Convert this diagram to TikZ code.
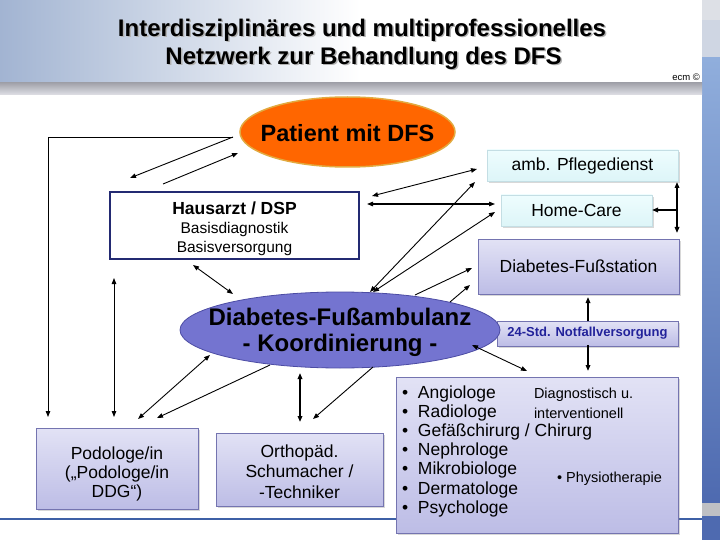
\documentclass[tikz,border=0pt]{standalone}
\usepackage{fontspec}
\setmainfont{Liberation Sans}
\usetikzlibrary{arrows.meta,shapes.geometric,shadows}
\definecolor{lavtop}{HTML}{E2E2F5}
\definecolor{lavbot}{HTML}{BDBDE6}
\definecolor{lavdraw}{HTML}{7474B0}
\definecolor{cyantop}{HTML}{EEFDFE}
\definecolor{cyanbot}{HTML}{DDF5F8}
\definecolor{cyandraw}{HTML}{C4DEE4}
\definecolor{patorange}{HTML}{FF6600}
\definecolor{patdraw}{HTML}{E2AA40}
\definecolor{ambfill}{HTML}{7474D0}
\definecolor{ambdraw}{HTML}{4C4CA4}
\definecolor{navy}{HTML}{232A72}
\definecolor{notftext}{HTML}{22229A}
\definecolor{bandleft}{HTML}{A2B4D2}
\definecolor{stripcol}{HTML}{CBCCD6}
\definecolor{linecol}{HTML}{3E60A6}
\definecolor{bartop}{HTML}{DDE0E6}
\definecolor{barmid}{HTML}{CFD6E3}
\definecolor{barblueA}{HTML}{90AEDC}
\definecolor{barblueB}{HTML}{4E6AB0}
\definecolor{bargrey}{HTML}{BFC0C4}
\begin{document}
\begin{tikzpicture}[x=1pt,y=-1pt,
  every node/.style={inner sep=0pt, outer sep=0pt},
  shad/.style={drop shadow={shadow xshift=2pt,shadow yshift=-2pt,opacity=0.3,fill=gray}},
  lavbox/.style={draw=lavdraw, line width=0.8pt, top color=lavtop, bottom color=lavbot, shad},
  cyanbox/.style={draw=cyandraw, line width=0.6pt, top color=cyantop, bottom color=cyanbot, shad,
    font=\fontsize{17.5}{20}\selectfont},
  txt/.style={font=\fontsize{17.5}{19}\selectfont, align=center},
  titlefont/.style={font=\bfseries\fontsize{24}{28}\selectfont},
  barpart/.style={anchor=north west, minimum width=18pt, draw=none},
  tip/.tip={Triangle[length=6pt,width=4.5pt]},
  arr/.style={-tip, line width=0.9pt},
  darr/.style={tip-tip, line width=0.9pt},
  thick arr/.style={line width=1.5pt}
]
\useasboundingbox (0,0) rectangle (720,540);
\fill[white] (0,0) rectangle (702,540);
% right bar
\node[barpart, fill=bartop, minimum height=20pt] (barA) at (702,0) {};
\node[barpart, fill=barmid, minimum height=38pt] (barB) at (702,20) {};
\node[barpart, top color=barblueA, bottom color=barblueB, minimum height=445pt] (barC) at (702,58) {};
\node[barpart, fill=bargrey, minimum height=13pt] (barD) at (702,503) {};
\node[barpart, fill=barblueB, minimum height=24pt] (barE) at (702,516) {};
% title band
\shade[left color=bandleft, right color=white] (0,0) rectangle (360,83);
\shade[top color=stripcol!80!black, bottom color=stripcol!60] (0,83) rectangle (702,95);
% bottom line
\draw[linecol, line width=2pt] (0,519) -- (702,519);
% title
\node[anchor=base, text=gray!60, titlefont] at (363.5,38) {Interdisziplinäres und multiprofessionelles};
\node[anchor=base, titlefont] (t1) at (362,36.5) {Interdisziplinäres und multiprofessionelles};
\node[anchor=base, text=gray!60, titlefont] at (365,66) {Netzwerk zur Behandlung des DFS};
\node[anchor=base, titlefont] (t2) at (363.5,64.5) {Netzwerk zur Behandlung des DFS};
\node[anchor=base east, font=\fontsize{9.5}{11}\selectfont] (ecm) at (700,80.5) {ecm ©};

% nodes
\node[ellipse, minimum width=215pt, minimum height=70pt, fill=patorange, draw=patdraw, line width=1.5pt] (pat) at (347.5,132) {};
\node[font=\bfseries\fontsize{23.5}{28}\selectfont] (pattxt) at (347.5,133) {Patient mit DFS};

\node[draw=navy, line width=1.3pt, fill=white, minimum width=249pt, minimum height=67pt] (haus) at (234.5,225.5) {};
\node[font=\fontsize{15.5}{19}\selectfont, align=center] (haustxt) at (234.5,228.5)
  {{\bfseries\fontsize{17.5}{19}\selectfont Hausarzt / DSP}\\Basisdiagnostik\\Basisversorgung};

\node[cyanbox, minimum width=191pt, minimum height=31pt] (amb) at (582.5,165.5) {amb. Pflegedienst};
\node[cyanbox, minimum width=151pt, minimum height=31pt] (home) at (576.5,210.5) {Home-Care};
\node[lavbox, minimum width=201pt, minimum height=55pt, font=\fontsize{17.5}{20}\selectfont] (station) at (578.5,266.5) {Diabetes-Fußstation};
\node[lavbox, minimum width=181pt, minimum height=25pt, font=\bfseries\fontsize{13}{15}\selectfont, text=notftext] (notf) at (587.5,333.5) {24-Std. Notfallversorgung};

\node[ellipse, minimum width=320pt, minimum height=76pt, fill=ambfill, draw=ambdraw, line width=0.8pt] (fam) at (340,330) {};
\node[font=\bfseries\fontsize{24}{26}\selectfont, align=center] (famtxt) at (340,332) {Diabetes-Fußambulanz\\- Koordinierung -};

\node[lavbox, minimum width=282pt, minimum height=156pt] (big) at (537,455) {};
\foreach \t [count=\i] in {Angiologe,Radiologe,Gefäßchirurg / Chirurg,Nephrologe,Mikrobiologe,Dermatologe,Psychologe}
  \node[anchor=base west, font=\fontsize{17.5}{19}\selectfont] (li\i) at (402,{398+19.2*(\i-1)}) {\makebox[16pt][l]{•}\t};
\node[anchor=base west, font=\fontsize{14.5}{17}\selectfont] (diag1) at (534,398) {Diagnostisch u.};
\node[anchor=base west, font=\fontsize{14.5}{17}\selectfont] (diag2) at (534,418) {interventionell};
\node[anchor=base west, font=\fontsize{14.5}{17}\selectfont] (phys) at (557,482) {• Physiotherapie};

\node[lavbox, minimum width=162pt, minimum height=81pt] (pod) at (117,468.5) {};
\node[txt] (podtxt) at (117,473.5) {Podologe/in\\(„Podologe/in\\DDG“)};
\node[lavbox, minimum width=167pt, minimum height=73pt] (orth) at (299.5,469.5) {};
\node[txt, font=\fontsize{17.5}{20.5}\selectfont] (orthtxt) at (299.5,471.5) {Orthopäd.\\Schumacher /\\-Techniker};

% connector end points
\coordinate (patL) at (233,137);
\coordinate (podTL) at (48,417);
\coordinate (hausTL) at (130,178);
\coordinate (hausTM) at (163,184);
\coordinate (patSW) at (238,153);
\coordinate (hausE1) at (372,196);
\coordinate (ambW) at (477,169);
\coordinate (hausE2) at (367,204);
\coordinate (homeW) at (495,204);
\coordinate (famN1) at (370,292);
\coordinate (ambSW) at (475,182);
\coordinate (famN2) at (373,292);
\coordinate (homeSW) at (495,212);
\coordinate (famNE1) at (415,295);
\coordinate (stationW1) at (472,268);
\coordinate (famNE2) at (450,302);
\coordinate (stationW2) at (470,285);
\coordinate (notfN) at (588,321);
\coordinate (stationS) at (588,297);
\coordinate (notfS) at (588,345);
\coordinate (bigN) at (588,371);
\coordinate (rightT) at (677,182);
\coordinate (rightB) at (677,233);
\coordinate (rightM) at (677,210);
\coordinate (homeE) at (652,210);
\coordinate (hausB) at (193,265);
\coordinate (famNW) at (233,294);
\coordinate (hausBL) at (114,278);
\coordinate (podT) at (114,417);
\coordinate (podTR1) at (138,419);
\coordinate (famSW1) at (210,355);
\coordinate (famS1) at (270,365);
\coordinate (podTR2) at (157,418);
\coordinate (famS2) at (300,373);
\coordinate (orthT) at (300,422);
\coordinate (famS3) at (373,367);
\coordinate (orthTR) at (313,419);
\coordinate (famSE) at (472,345);
\coordinate (bigNW) at (527,371);

% connectors
\draw[arr] (patL) -| (podTL);
\draw[arr] (patL) -- (hausTL);
\draw[arr] (hausTM) -- (patSW);
\draw[darr] (hausE1) -- (ambW);
\draw[darr, line width=1.2pt] (hausE2) -- (homeW);
\draw[darr] (famN1) -- (ambSW);
\draw[darr] (famN2) -- (homeSW);
\draw[arr] (famNE1) -- (stationW1);
\draw[arr] (famNE2) -- (stationW2);
\draw[arr, thick arr] (notfN) -- (stationS);
\draw[arr, thick arr] (notfS) -- (bigN);
\draw[darr, thick arr] (rightT) -- (rightB);
\draw[arr, thick arr] (rightM) -- (homeE);
\draw[darr] (hausB) -- (famNW);
\draw[darr] (hausBL) -- (podT);
\draw[darr] (podTR1) -- (famSW1);
\draw[arr] (famS1) -- (podTR2);
\draw[darr, line width=2pt] (famS2) -- (orthT);
\draw[arr] (famS3) -- (orthTR);
\draw[darr] (famSE) -- (bigNW);
\end{tikzpicture}
\end{document}
